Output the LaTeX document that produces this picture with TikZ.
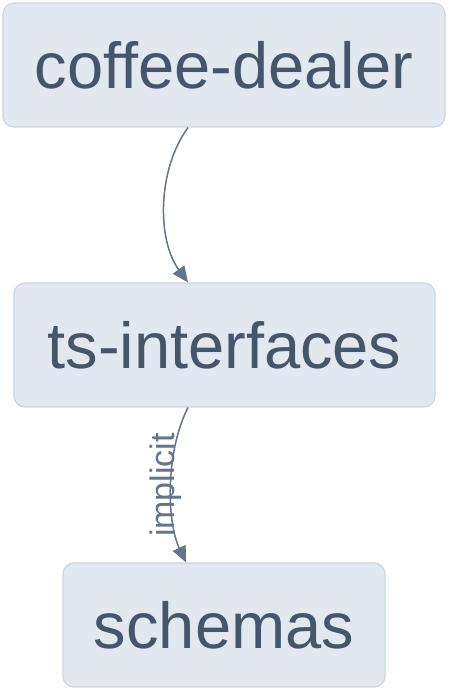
\documentclass[tikz,border=0pt]{standalone}
\usepackage{fontspec}
\setmainfont{Liberation Sans}
\usetikzlibrary{arrows.meta}
\definecolor{boxfill}{HTML}{E2E8F0}
\definecolor{boxline}{HTML}{CBD5E1}
\definecolor{boxtext}{HTML}{475569}
\definecolor{edgecol}{HTML}{64748B}
\tikzset{
  pkg/.style={draw=boxline, line width=1.2pt, fill=boxfill, rounded corners=11pt,
    minimum height=124pt, inner sep=0pt, text=boxtext,
    font=\fontsize{65}{72}\selectfont},
  edge/.style={draw=edgecol, line width=1.5pt, -{Triangle[length=16pt,width=14pt]}},
  elabel/.style={text=edgecol, font=\fontsize{34}{38}\selectfont, rotate=90, inner sep=0pt}
}
\begin{document}
\begin{tikzpicture}[x=1pt,y=1pt]
\useasboundingbox (0,0) rectangle (450,-690);
\node[pkg, minimum width=442pt] (cd) at (224,-65) {coffee-dealer};
\node[pkg, minimum width=421pt] (ts) at (224.5,-345) {ts-interfaces};
\node[pkg, minimum width=322pt] (sc) at (224,-625) {schemas};
\draw[edge] ([xshift=-36pt]cd.south) .. controls (157,-170) and (157,-240) .. ([xshift=-36.5pt]ts.north);
\draw[edge] ([xshift=-36.5pt]ts.south) .. controls (166,-450) and (166,-520) .. ([xshift=-38pt]sc.north);
\node[elabel] (lbl) at (165.5,-485) {implicit};
\end{tikzpicture}
\end{document}
